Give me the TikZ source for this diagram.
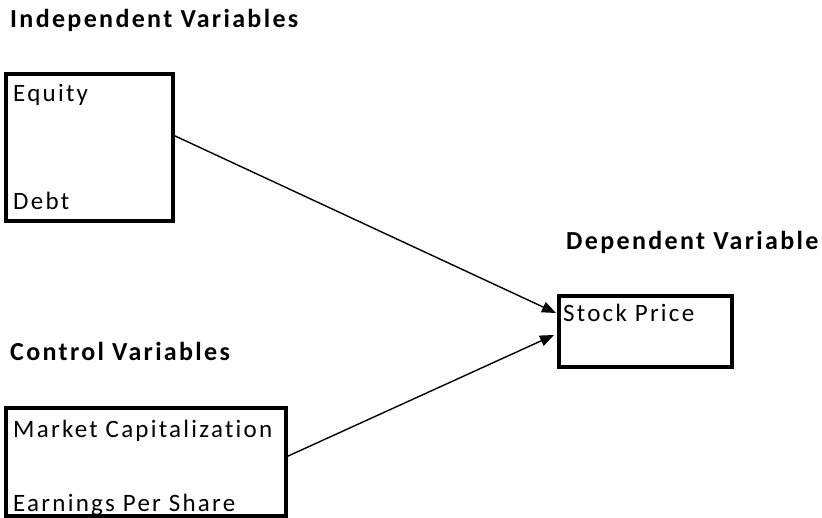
\documentclass[tikz,border=0pt]{standalone}
\usepackage{fontspec}
\setmainfont{Carlito}[LetterSpace=9,Ligatures=NoCommon]
\usetikzlibrary{arrows.meta}
\begin{document}
\begin{tikzpicture}[x=1pt,y=-1pt,
  box/.style={draw,line width=3.2pt,inner sep=0pt,outer sep=0pt,anchor=north west},
  lbl/.style={anchor=base west,inner sep=0pt,font=\fontsize{25}{29}\selectfont},
  head/.style={anchor=base west,inner sep=0pt,font=\fontsize{26}{30}\selectfont\bfseries},
  conn/.style={line width=1.4pt,-{Triangle[length=14pt,width=11pt]}}]
\useasboundingbox (0,0) rectangle (822,518);
\node[head] (h1) at (10,28) {Independent Variables};
\node[head] (h2) at (566,250) {Dependent Variable};
\node[head] (h3) at (10,361) {Control Variables};
\node[box, minimum width=167pt, minimum height=147pt] (b1) at (6,74) {};
\node[box, minimum width=173pt, minimum height=71pt] (b2) at (559,296) {};
\node[box, minimum width=280pt, minimum height=108pt] (b3) at (6,408) {};
\node[lbl] (t1) at (13,102) {Equity};
\node[lbl] (t2) at (13,210) {Debt};
\node[lbl] (t3) at (563,322) {Stock Price};
\node[lbl] (t4) at (13,437) {Market Capitalization};
\node[lbl] (t5) at (13,511) {Earnings Per Share};
\draw[conn] ([yshift=-61pt]b1.north east) -- ([xshift=-3pt,yshift=-17pt]b2.north west);
\draw[conn] ([yshift=-49pt]b3.north east) -- ([xshift=-5pt,yshift=-39pt]b2.north west);
\end{tikzpicture}
\end{document}
